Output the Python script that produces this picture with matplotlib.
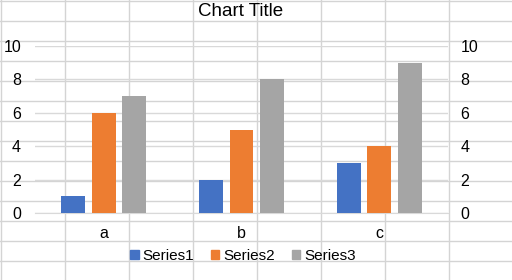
import numpy as np
import matplotlib
matplotlib.use('Agg')
import matplotlib.pyplot as plt
from matplotlib.patches import Patch

# chart data
categories = ['a', 'b', 'c']
series_names = ['Series1', 'Series2', 'Series3']
series1 = [1, 2, 3]
series2 = [6, 5, 4]
series3 = [7, 8, 9]
colors = ['#4472C4', '#ED7D31', '#A5A5A5']
y_ticks = [0, 2, 4, 6, 8, 10]

plt.rcParams['font.family'] = ['Liberation Sans', 'DejaVu Sans']

W, H = 512, 280
fig = plt.figure(figsize=(W / 100, H / 100), dpi=100)
fig.patch.set_facecolor('white')

# spreadsheet cells behind the (transparent) chart
bg = fig.add_axes([0, 0, 1, 1])
bg.set_xlim(0, W)
bg.set_ylim(H, 0)
bg.axis('off')
for gx in range(0, W, 64):
    bg.axvline(gx + 0.5, color='#D4D4D4', lw=1)
for gy in range(0, H, 20):
    bg.axhline(gy + 0.5, color='#D4D4D4', lw=1)

# plot area in pixels
left, right, top, bottom = 35, 448, 46, 213
ax = fig.add_axes([left / W, 1 - bottom / H, (right - left) / W, (bottom - top) / H])
ax.patch.set_alpha(0)

x = np.arange(len(categories))
bw = 0.174
step = 0.221
for i, vals in enumerate([series1, series2, series3]):
    ax.bar(x + (i - 1) * step, vals, width=bw, color=colors[i], zorder=3)

ax.set_xlim(-0.5, len(categories) - 0.5)
ax.set_ylim(0, 10)
ax.set_yticks(y_ticks)
ax.yaxis.grid(True, color='#D9D9D9', lw=1)
ax.set_axisbelow(True)
for s in ['top', 'right', 'left']:
    ax.spines[s].set_visible(False)
ax.spines['bottom'].set_color('#D9D9D9')
ax.set_xticks(x)
ax.set_xticklabels(categories)
ax.tick_params(axis='x', length=0, pad=9, labelsize=11.5, colors='#000000')
ax.tick_params(axis='y', length=0, pad=10, labelsize=11.5)

ax2 = ax.twinx()
ax2.set_ylim(0, 10)
ax2.set_yticks(y_ticks)
for s in ax2.spines.values():
    s.set_visible(False)
ax2.tick_params(axis='y', length=0, pad=9, labelsize=11.5)

fig.text(241 / W, 1 - 12 / H, 'Chart Title', ha='center', va='center', fontsize=13.5)

handles = [Patch(color=c, label=n) for c, n in zip(colors, series_names)]
fig.legend(handles=handles, loc='center', bbox_to_anchor=(243 / W, 1 - 256 / H),
           ncol=3, frameon=False, fontsize=11, handlelength=0.55, handleheight=0.55,
           handletextpad=0.25, columnspacing=1.1, borderpad=0)

fig.savefig('out.png', dpi=100, facecolor='white')
